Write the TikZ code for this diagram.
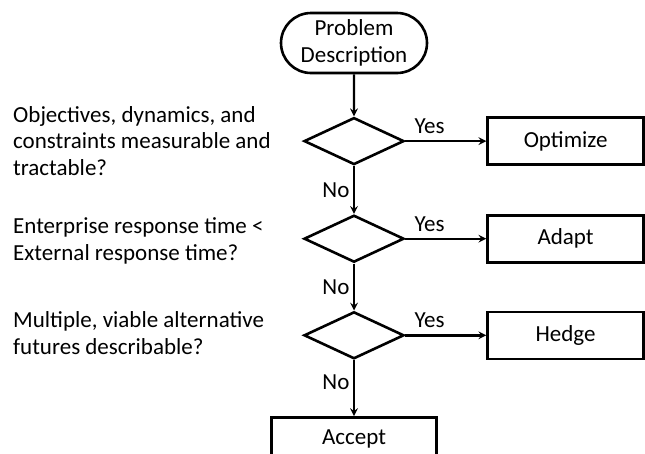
\documentclass[tikz,border=0pt]{standalone}
\usepackage{fontspec}
\setmainfont{Carlito}
\usepackage{tikz}
\usetikzlibrary{shapes, arrows, positioning}

\begin{document}
\begin{tikzpicture}[x=1pt, y=-1pt,
    every node/.style={font=\fontsize{23}{26.5}\selectfont},
    terminal/.style={draw=black, rounded rectangle, line width=2.6pt, minimum width=150pt, minimum height=60pt, align=center, inner sep=2pt},
    decision/.style={draw=black, diamond, line width=2.6pt, minimum width=100pt, minimum height=47pt, inner sep=0pt},
    box/.style={draw=black, rectangle, line width=2.6pt, minimum width=156pt, minimum height=47pt},
    question/.style={anchor=west, align=left, inner sep=0pt},
    arrow/.style={->, >=stealth, line width=2.4pt}
]
\useasboundingbox (0,0) rectangle (645,453);

\node[terminal] (problem) at (354,43) {Problem\\Description};
\node[decision, below=42pt of problem] (measurable) {};
\node[decision, below=48pt of measurable] (response) {};
\node[decision, below=47pt of response] (futures) {};
\node[box, minimum width=165pt, minimum height=44pt, below=56pt of futures] (accept) {Accept};

\node[box, right=81pt of measurable] (optimize) {Optimize};
\node[box, right=81pt of response] (adapt) {Adapt};
\node[box, right=81pt of futures] (hedge) {Hedge};

\node[question] (q1) at (13,141) {Objectives, dynamics, and\\constraints measurable and\\tractable?};
\node[question] (q2) at (13,241) {Enterprise response time <\\External response time?};
\node[question] (q3) at (13,333) {Multiple, viable alternative\\futures describable?};

\draw[arrow] (problem) -- (measurable);
\draw[arrow] (measurable) -- node[above=3pt, pos=0.3] {Yes} (optimize);
\draw[arrow] (measurable) -- node[left, pos=0.5] {No} (response);
\draw[arrow] (response) -- node[above=3pt, pos=0.3] {Yes} (adapt);
\draw[arrow] (response) -- node[left, pos=0.5] {No} (futures);
\draw[arrow] (futures) -- node[above=3pt, pos=0.3] {Yes} (hedge);
\draw[arrow] (futures) -- node[left, pos=0.4] {No} (accept);
\end{tikzpicture}
\end{document}
